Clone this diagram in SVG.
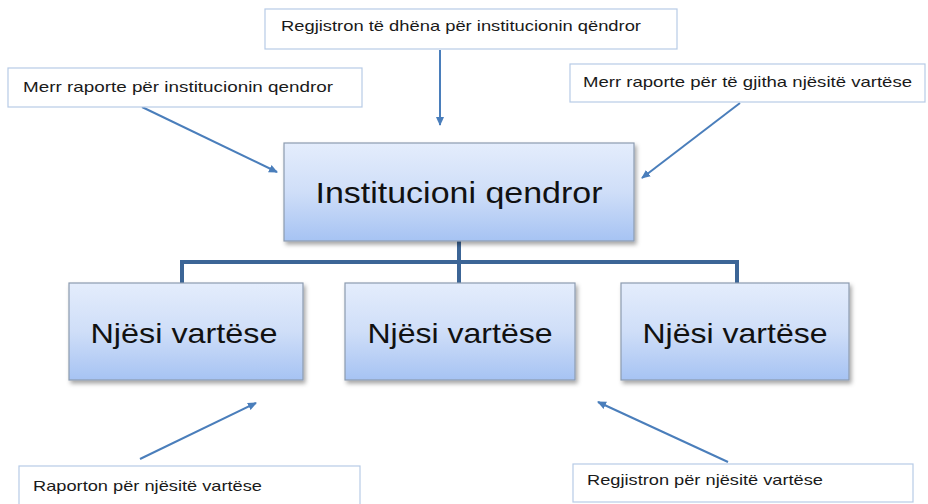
<svg xmlns="http://www.w3.org/2000/svg" width="928" height="504" viewBox="0 0 928 504">
<defs>
<linearGradient id="g" x1="0" y1="0" x2="0" y2="1">
<stop offset="0" stop-color="#e4edfc"/>
<stop offset="0.5" stop-color="#cfdef8"/>
<stop offset="1" stop-color="#a6c3f3"/>
</linearGradient>
<filter id="sh" x="-10%" y="-10%" width="125%" height="130%">
<feDropShadow dx="2" dy="3" stdDeviation="2" flood-color="#000" flood-opacity="0.35"/>
</filter>
<marker id="ah" markerWidth="10" markerHeight="10" refX="8" refY="5" orient="auto" markerUnits="userSpaceOnUse">
<path d="M0,1 L9,5 L0,9 z" fill="#4a7ebb"/>
</marker>
</defs>
<style>
.note{fill:#fff;stroke:#b7cbe6;stroke-width:1.2}
.nt{font-family:"Liberation Sans",Arial,sans-serif;font-size:15px;fill:#1a1a1a}
.box{fill:url(#g);stroke:#8c9bb0;stroke-width:1.2;filter:url(#sh)}
.bt{font-family:"Liberation Sans",Arial,sans-serif;fill:#111;text-anchor:middle}
.arr{stroke:#4a7ebb;stroke-width:2;fill:none;marker-end:url(#ah)}
.con{stroke:#3c6596;stroke-width:4;fill:none}
</style>
<rect width="928" height="504" fill="#fff"/>
<g id="connectors">
<path class="con" d="M459,241 V283 M182,283 V262 H737 V283"/>
<line class="arr" x1="440" y1="50" x2="440" y2="125"/>
<line class="arr" x1="142" y1="107" x2="277" y2="172"/>
<line class="arr" x1="740" y1="103" x2="642" y2="178"/>
<line class="arr" x1="140" y1="459" x2="256" y2="403"/>
<line class="arr" x1="728" y1="462" x2="598" y2="402"/>
</g>
<g id="note-top">
<rect class="note" x="265" y="9" width="412" height="40"/>
<text class="nt" x="281" y="31" textLength="360" lengthAdjust="spacingAndGlyphs">Regjistron të dhëna për institucionin qëndror</text>
</g>
<g id="note-topleft">
<rect class="note" x="8" y="68" width="354" height="39"/>
<text class="nt" x="23" y="92" textLength="310" lengthAdjust="spacingAndGlyphs">Merr raporte për institucionin qendror</text>
</g>
<g id="note-topright">
<rect class="note" x="570" y="64" width="355" height="38"/>
<text class="nt" x="583" y="87" textLength="329" lengthAdjust="spacingAndGlyphs">Merr raporte për të gjitha njësitë vartëse</text>
</g>
<g id="main">
<rect class="box" x="284" y="143" width="350" height="98"/>
<text class="bt" x="459" y="203" font-size="29" textLength="287" lengthAdjust="spacingAndGlyphs">Institucioni qendror</text>
</g>
<g id="unit1">
<rect class="box" x="69" y="283" width="234" height="97"/>
<text class="bt" x="184" y="343" font-size="28" textLength="187" lengthAdjust="spacingAndGlyphs">Njësi vartëse</text>
</g>
<g id="unit2">
<rect class="box" x="345" y="283" width="230" height="97"/>
<text class="bt" x="460" y="343" font-size="28" textLength="185" lengthAdjust="spacingAndGlyphs">Njësi vartëse</text>
</g>
<g id="unit3">
<rect class="box" x="621" y="283" width="228" height="97"/>
<text class="bt" x="735" y="343" font-size="28" textLength="185" lengthAdjust="spacingAndGlyphs">Njësi vartëse</text>
</g>
<g id="note-bottomleft">
<rect class="note" x="19" y="466" width="341" height="44"/>
<text class="nt" x="33" y="491" textLength="229" lengthAdjust="spacingAndGlyphs">Raporton për njësitë vartëse</text>
</g>
<g id="note-bottomright">
<rect class="note" x="573" y="464" width="340" height="38"/>
<text class="nt" x="587" y="485" textLength="236" lengthAdjust="spacingAndGlyphs">Regjistron për njësitë vartëse</text>
</g>
</svg>
